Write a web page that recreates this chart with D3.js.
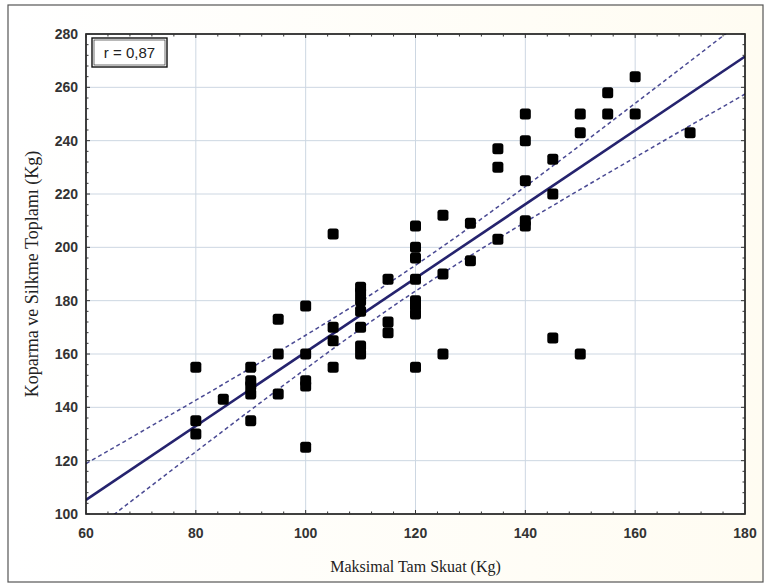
<!DOCTYPE html>
<html>
<head>
<script src="https://d3js.org/d3.v7.min.js"></script>
<style>
  body { margin: 0; background: #fff; }
  svg { display: block; }
  .tick-label { font-family: "Liberation Sans", Arial, sans-serif; font-size: 14px; font-weight: bold; fill: #333; }
  .axis-title { font-family: "Liberation Serif", "Times New Roman", serif; font-size: 16px; fill: #222; }
</style>
</head>
<body>
<div id="chart"></div>
<script>
// squat (kg) and snatch + clean&jerk total (kg)
const squat = [80, 80, 80, 85, 90, 90, 90, 90, 90, 95, 95, 95,
  100, 100, 100, 100, 100, 105, 105, 105, 105,
  110, 110, 110, 110, 110, 110, 110, 115, 115, 115,
  120, 120, 120, 120, 120, 120, 120, 120, 125, 125, 125, 130, 130,
  135, 135, 135, 140, 140, 140, 140, 140, 145, 145, 145,
  150, 150, 150, 155, 155, 160, 160, 170];
const total = [155, 135, 130, 143, 155, 150, 148, 145, 135, 173, 160, 145,
  178, 160, 150, 148, 125, 205, 170, 165, 155,
  185, 183, 180, 176, 170, 163, 160, 188, 172, 168,
  208, 200, 196, 188, 180, 178, 175, 155, 212, 190, 160, 209, 195,
  237, 230, 203, 250, 240, 225, 210, 208, 233, 220, 166,
  250, 243, 160, 258, 250, 264, 250, 243];
const xTicks = [60, 80, 100, 120, 140, 160, 180];
const yTicks = [100, 120, 140, 160, 180, 200, 220, 240, 260, 280];
const rLabel = "r = 0,87";

const W = 769, H = 586;
const m = { left: 86, right: 24, top: 34, bottom: 72 };

const svg = d3.select('#chart').append('svg').attr('width', W).attr('height', H);

const bg = svg.append('defs').append('linearGradient').attr('id', 'bg');
bg.append('stop').attr('offset', '0%').attr('stop-color', '#ffffff');
bg.append('stop').attr('offset', '100%').attr('stop-color', '#fffcf2');
svg.append('rect').attr('x', 8).attr('y', 5).attr('width', W - 14).attr('height', H - 9)
  .attr('fill', 'url(#bg)').attr('stroke', '#555').attr('stroke-width', 1.2);

const x = d3.scaleLinear().domain([60, 180]).range([m.left, W - m.right]);
const y = d3.scaleLinear().domain([100, 280]).range([H - m.bottom, m.top]);

const plot = svg.append('g');
plot.append('rect').attr('x', x(60)).attr('y', y(280))
  .attr('width', x(180) - x(60)).attr('height', y(100) - y(280)).attr('fill', '#fff');

svg.append('defs').append('clipPath').attr('id', 'clip')
  .append('rect').attr('x', x(60)).attr('y', y(280))
  .attr('width', x(180) - x(60)).attr('height', y(100) - y(280));

// grid
plot.selectAll('.vg').data(xTicks.slice(1, -1)).enter().append('line')
  .attr('x1', d => x(d)).attr('x2', d => x(d)).attr('y1', y(100)).attr('y2', y(280))
  .attr('stroke', '#cdd7e2').attr('stroke-width', 1);
plot.selectAll('.hg').data(yTicks.slice(1, -1)).enter().append('line')
  .attr('x1', x(60)).attr('x2', x(180)).attr('y1', d => y(d)).attr('y2', d => y(d))
  .attr('stroke', '#cdd7e2').attr('stroke-width', 1);

// regression and 95% confidence band from the points
const n = squat.length;
const mx = d3.mean(squat), my = d3.mean(total);
const sxx = d3.sum(squat, v => (v - mx) ** 2);
const sxy = d3.sum(squat.map((v, i) => (v - mx) * (total[i] - my)));
const b = sxy / sxx, a = my - b * mx;
const se = Math.sqrt(d3.sum(squat.map((v, i) => (total[i] - a - b * v) ** 2)) / (n - 2));
const tval = 2.0;
const xs = d3.range(60, 180.5, 1);
const band = s => xs.map(v => [v, a + b * v + s * tval * se * Math.sqrt(1 / n + (v - mx) ** 2 / sxx)]);

const g = plot.append('g').attr('clip-path', 'url(#clip)');
const line = d3.line().x(d => x(d[0])).y(d => y(d[1]));
[1, -1].forEach(s => {
  g.append('path').datum(band(s)).attr('d', line)
    .attr('fill', 'none').attr('stroke', '#4b4b94').attr('stroke-width', 1.5)
    .attr('stroke-dasharray', '4,3');
});
g.append('path').datum([[60, a + b * 60], [180, a + b * 180]]).attr('d', line)
  .attr('fill', 'none').attr('stroke', '#25236e').attr('stroke-width', 2.6);

// points
g.selectAll('.pt').data(squat).enter().append('rect')
  .attr('x', (d) => x(d) - 5.5).attr('y', (d, i) => y(total[i]) - 5.5)
  .attr('width', 11).attr('height', 11).attr('rx', 2.5)
  .attr('fill', '#000');

// frame and ticks
plot.append('rect').attr('x', x(60)).attr('y', y(280))
  .attr('width', x(180) - x(60)).attr('height', y(100) - y(280))
  .attr('fill', 'none').attr('stroke', '#111').attr('stroke-width', 1.6);

const xMinor = d3.range(60, 180.1, 4);
const yMinor = d3.range(100, 280.1, 4);
const ticks = plot.append('g').attr('stroke', '#333').attr('stroke-width', 1);
xMinor.forEach(v => {
  const len = xTicks.includes(v) ? 4 : 2.5;
  ticks.append('line').attr('x1', x(v)).attr('x2', x(v)).attr('y1', y(100)).attr('y2', y(100) - len);
  ticks.append('line').attr('x1', x(v)).attr('x2', x(v)).attr('y1', y(280)).attr('y2', y(280) + len);
});
yMinor.forEach(v => {
  const len = yTicks.includes(v) ? 4 : 2.5;
  ticks.append('line').attr('x1', x(60)).attr('x2', x(60) + len).attr('y1', y(v)).attr('y2', y(v));
  ticks.append('line').attr('x1', x(180)).attr('x2', x(180) - len).attr('y1', y(v)).attr('y2', y(v));
});

svg.selectAll('.xl').data(xTicks).enter().append('text').attr('class', 'tick-label')
  .attr('x', d => x(d)).attr('y', y(100) + 24).attr('text-anchor', 'middle').text(d => d);
svg.selectAll('.yl').data(yTicks).enter().append('text').attr('class', 'tick-label')
  .attr('x', x(60) - 8).attr('y', d => y(d) + 5).attr('text-anchor', 'end').text(d => d);

svg.append('text').attr('class', 'axis-title')
  .attr('x', (x(60) + x(180)) / 2).attr('y', 572).attr('text-anchor', 'middle')
  .text('Maksimal Tam Skuat (Kg)');
svg.append('text').attr('class', 'axis-title')
  .style('font-size', '18px')
  .attr('transform', `translate(38,${(y(100) + y(280)) / 2}) rotate(-90)`)
  .attr('text-anchor', 'middle')
  .text('Koparma ve Silkme Toplamı (Kg)');

// r box
svg.append('rect').attr('x', 92).attr('y', 38).attr('width', 75).attr('height', 29)
  .attr('fill', '#fff').attr('stroke', '#111').attr('stroke-width', 1.4);
svg.append('rect').attr('x', 94).attr('y', 40).attr('width', 71).attr('height', 25)
  .attr('fill', 'none').attr('stroke', '#111').attr('stroke-width', 0.6);
svg.append('text').attr('x', 129.5).attr('y', 58).attr('text-anchor', 'middle')
  .style('font-family', '"Liberation Sans", Arial, sans-serif').style('font-size', '15px')
  .attr('fill', '#222').text(rLabel);
</script>
</body>
</html>
